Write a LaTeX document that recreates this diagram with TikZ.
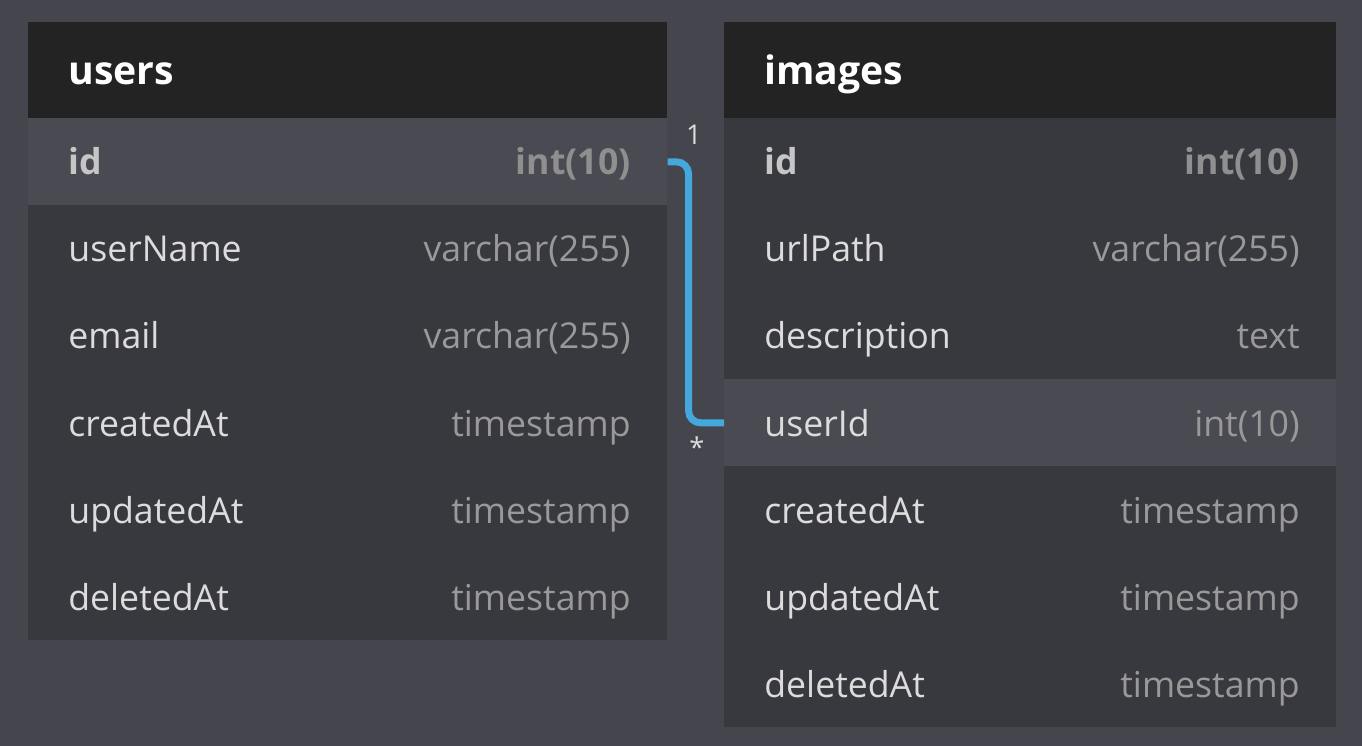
\documentclass[tikz,border=0pt]{standalone}
\usepackage{fontspec}
\setmainfont{Open Sans}
\usepackage{xcolor}
\usetikzlibrary{positioning}

\definecolor{canvas}{HTML}{45454D}
\definecolor{headbg}{HTML}{232323}
\definecolor{rowbg}{HTML}{38383F}
\definecolor{rowhi}{HTML}{4A4A52}
\definecolor{fieldfg}{HTML}{DCDCDC}
\definecolor{typefg}{HTML}{999999}
\definecolor{linkblue}{HTML}{44A8DD}

\begin{document}
\begin{tikzpicture}[x=0.02cm, y=-0.02cm,
    tablehead/.style={fill=headbg, inner sep=0, anchor=north west, minimum height=1.92cm},
    fieldrow/.style={fill=rowbg, inner sep=0, anchor=north west, minimum height=1.74cm},
    keyrow/.style={fieldrow, fill=rowhi},
    title/.style={anchor=base west, text=white, inner sep=0, font=\bfseries\fontsize{22.3}{26}\selectfont},
    fname/.style={anchor=base west, text=fieldfg, inner sep=0, font=\fontsize{20.3}{24}\selectfont},
    ftype/.style={anchor=base east, text=typefg, inner sep=0, font=\fontsize{20.3}{24}\selectfont},
    keyname/.style={fname, text=fieldfg!90!black, font=\bfseries\fontsize{20.3}{24}\selectfont},
    keytype/.style={ftype, text=typefg!110!white, font=\bfseries\fontsize{20.3}{24}\selectfont},
    card/.style={text=fieldfg, inner sep=0, font=\fontsize{15.5}{18}\selectfont},
    link/.style={draw=linkblue, line width=0.14cm, rounded corners=0.24cm}
]
\fill[canvas] (0,0) rectangle (1362,746);

% users table
\node[tablehead, minimum width=12.78cm] (users) at (28,22) {};
\node[keyrow, minimum width=12.78cm] (u-id) at (28,118) {};
\node[fieldrow, minimum width=12.78cm] (u-name) at (28,205) {};
\node[fieldrow, minimum width=12.78cm] (u-email) at (28,292) {};
\node[fieldrow, minimum width=12.78cm] (u-created) at (28,379) {};
\node[fieldrow, minimum width=12.78cm] (u-updated) at (28,466) {};
\node[fieldrow, minimum width=12.78cm] (u-deleted) at (28,553) {};

\node[title] (users-t) at (68,85) {users};
\node[keyname] (u-id-n) at (68,175) {id};
\node[keytype] (u-id-t) at (631,175) {int(10)};
\node[fname] (u-name-n) at (68,262) {userName};
\node[ftype] (u-name-t) at (631,262) {varchar(255)};
\node[fname] (u-email-n) at (68,349) {email};
\node[ftype] (u-email-t) at (631,349) {varchar(255)};
\node[fname] (u-created-n) at (68,436) {createdAt};
\node[ftype] (u-created-t) at (631,436) {timestamp};
\node[fname] (u-updated-n) at (68,523) {updatedAt};
\node[ftype] (u-updated-t) at (631,523) {timestamp};
\node[fname] (u-deleted-n) at (68,610) {deletedAt};
\node[ftype] (u-deleted-t) at (631,610) {timestamp};

% images table
\node[tablehead, minimum width=12.24cm] (images) at (724,22) {};
\node[fieldrow, minimum width=12.24cm] (i-id) at (724,118) {};
\node[fieldrow, minimum width=12.24cm] (i-url) at (724,205) {};
\node[fieldrow, minimum width=12.24cm] (i-desc) at (724,292) {};
\node[keyrow, minimum width=12.24cm] (i-user) at (724,379) {};
\node[fieldrow, minimum width=12.24cm] (i-created) at (724,466) {};
\node[fieldrow, minimum width=12.24cm] (i-updated) at (724,553) {};
\node[fieldrow, minimum width=12.24cm] (i-deleted) at (724,640) {};

\node[title] (images-t) at (764,85) {images};
\node[keyname] (i-id-n) at (764,175) {id};
\node[keytype] (i-id-t) at (1300,175) {int(10)};
\node[fname] (i-url-n) at (764,262) {urlPath};
\node[ftype] (i-url-t) at (1300,262) {varchar(255)};
\node[fname] (i-desc-n) at (764,349) {description};
\node[ftype] (i-desc-t) at (1300,349) {text};
\node[fname] (i-user-n) at (764,436) {userId};
\node[ftype] (i-user-t) at (1300,436) {int(10)};
\node[fname] (i-created-n) at (764,523) {createdAt};
\node[ftype] (i-created-t) at (1300,523) {timestamp};
\node[fname] (i-updated-n) at (764,610) {updatedAt};
\node[ftype] (i-updated-t) at (1300,610) {timestamp};
\node[fname] (i-deleted-n) at (764,697) {deletedAt};
\node[ftype] (i-deleted-t) at (1300,697) {timestamp};

% relation
\draw[link] (u-id.east) -- ++(21,0) |- (i-user.west);
\node[card] (one) at (694,135) {1};
\node[card] (many) at (697,447) {*};
\end{tikzpicture}
\end{document}
